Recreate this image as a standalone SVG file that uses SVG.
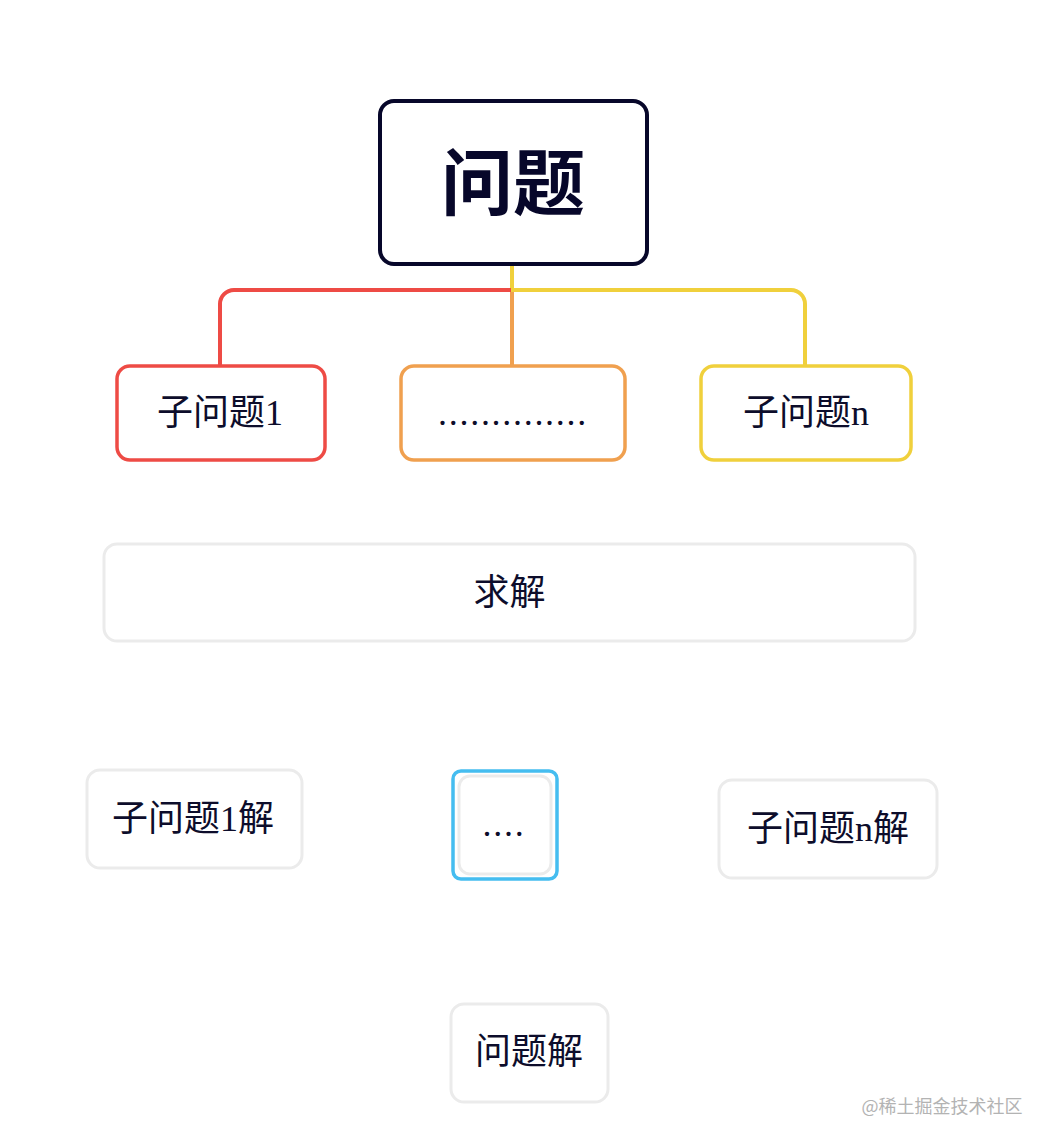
<svg xmlns="http://www.w3.org/2000/svg" width="1052" height="1146" viewBox="0 0 1052 1146">
<style>
.box{fill:#fff;}
.t{font-family:"Liberation Serif","Noto Sans CJK SC",serif;font-size:36px;fill:#0d0d2b;text-anchor:middle;}
.title{font-family:"Noto Sans CJK SC",sans-serif;font-size:72px;font-weight:bold;fill:#07072a;text-anchor:middle;}
.dots{letter-spacing:1.7px;}
.gray{stroke:#ebebeb;stroke-width:3;}
.conn{fill:none;stroke-width:4;}
</style>
<rect width="1052" height="1146" fill="#fff"/>
<g id="connectors">
<path class="conn" stroke="#f0d03c" d="M512,265 V290 H791 A14,14 0 0 1 805,304 V366"/>
<path class="conn" stroke="#ee4b45" d="M511,290 H234 A14,14 0 0 0 220,304 V366"/>
<path class="conn" stroke="#f0a04f" d="M512,292 V366"/>
</g>
<g id="root">
<rect class="box" x="380" y="101" width="267" height="163" rx="14" stroke="#07072a" stroke-width="4"/>
<text class="title" x="513" y="209">问题</text>
</g>
<g id="sub1">
<rect class="box" x="117" y="366" width="208" height="94" rx="13" stroke="#ee4b45" stroke-width="3.5"/>
<text class="t" x="220" y="425">子问题1</text>
</g>
<g id="subdots">
<rect class="box" x="401" y="366" width="224" height="94" rx="13" stroke="#f0a04f" stroke-width="3.5"/>
<text class="t dots" x="513" y="425">..............</text>
</g>
<g id="subn">
<rect class="box" x="701" y="366" width="210" height="94" rx="13" stroke="#f0d03c" stroke-width="3.5"/>
<text class="t" x="806" y="425">子问题n</text>
</g>
<g id="solve">
<rect class="box gray" x="104" y="544" width="811" height="97" rx="13"/>
<text class="t" x="509.5" y="605">求解</text>
</g>
<g id="sol1">
<rect class="box gray" x="87" y="770" width="215" height="98" rx="13"/>
<text class="t" x="193" y="831">子问题1解</text>
</g>
<g id="soldots">
<rect class="box" x="453" y="771" width="104" height="108" rx="8" stroke="#45bdf0" stroke-width="3.5"/>
<rect class="box gray" x="459" y="776" width="92" height="98" rx="11"/>
<text class="t dots" x="504" y="836">....</text>
</g>
<g id="soln">
<rect class="box gray" x="719" y="780" width="218" height="98" rx="13"/>
<text class="t" x="828" y="841">子问题n解</text>
</g>
<g id="answer">
<rect class="box gray" x="451" y="1004" width="157" height="98" rx="13"/>
<text class="t" x="529" y="1064">问题解</text>
</g>
<text x="942" y="1113" font-family="Noto Sans CJK SC, sans-serif" font-size="18" fill="#b3b3b3" text-anchor="middle">@稀土掘金技术社区</text>
</svg>
